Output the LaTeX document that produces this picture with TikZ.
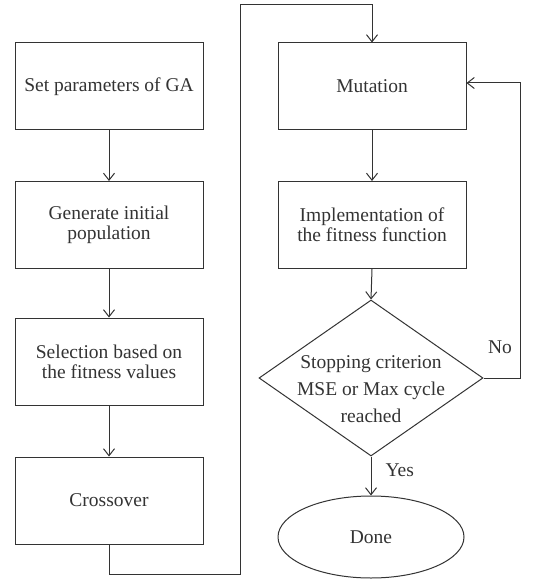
\documentclass[tikz,border=0pt]{standalone}
\usepackage{fontspec}
\setmainfont{Liberation Serif}
\usepackage{tikz}
\usetikzlibrary{arrows.meta,shapes.geometric}
\definecolor{ink}{HTML}{333333}
\tikzset{
  box/.style={draw=ink, line width=1pt, minimum width=188pt, minimum height=87pt, inner sep=0pt, align=center, text=ink, font=\fontsize{19.5}{20}\selectfont},
  lbl/.style={text=ink, font=\fontsize{19.5}{20}\selectfont, inner sep=0pt},
  arr/.style={draw=ink, line width=1pt, -{Straight Barb[length=7pt,width=11pt]}},
  ln/.style={draw=ink, line width=1pt}
}
\begin{document}
\begin{tikzpicture}[x=1pt,y=-1pt]
\useasboundingbox (0,0) rectangle (548,580);
\node[box] (b1) at (109,86.5) {Set parameters of GA};
\node[box] (b2) at (109,225) {Generate initial\\population};
\node[box] (b3) at (109,361.5) {Selection based on\\the fitness values};
\node[box] (b4) at (109,500.5) {Crossover};
\node[box] (mut) at (372,86.5) {Mutation};
\node[box] (imp) at (372,225) {Implementation of\\the fitness function};
\node[diamond, draw=ink, line width=1pt, minimum width=224pt, minimum height=156pt, inner sep=0pt] (dec) at (371,378) {};
\node[lbl, align=center, font=\fontsize{19.5}{27}\selectfont] (dect) at (371,389) {Stopping criterion\\MSE or Max cycle\\reached};
\node[ellipse, draw=ink, line width=1pt, minimum width=186pt, minimum height=82pt, inner sep=0pt, text=ink, font=\fontsize{19.5}{20}\selectfont] (done) at (371,537) {Done};
\coordinate (cA) at (240,574);
\coordinate (cB) at (240,5);
\coordinate (cC) at (520,83);
\draw[arr] (b1) -- (b2);
\draw[arr] (b2) -- (b3);
\draw[arr] (b3) -- (b4);
\draw[arr] (b4.south) |- (cA) -- (cB) -| (mut.north);
\draw[arr] (mut) -- (imp);
\draw[arr] (imp.south) -- (dec.north);
\draw[arr] (dec.south) -- (done.north) node[lbl, pos=0.35, right=14pt] (yes) {Yes};
\draw[arr] (dec.east) -| (cC) -- (mut.east |- cC);
\node[lbl] (no) at (500,347) {No};
\end{tikzpicture}
\end{document}
